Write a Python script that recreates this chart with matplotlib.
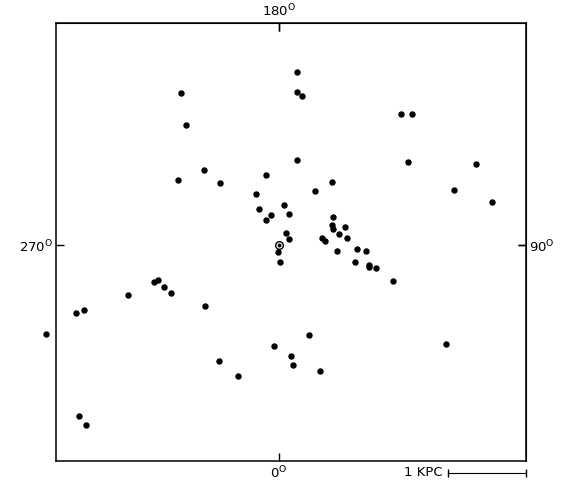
import numpy as np
import matplotlib
matplotlib.use("Agg")
import matplotlib.pyplot as plt
import matplotlib.transforms as mtransforms

# positions in kpc relative to the Sun (x toward l=90, y toward l=180)
x_kpc = [0.23, 0.23, 0.30, -1.25, -1.19, 1.56, 1.71, 0.23, 1.65, 2.53,
         -0.96, -1.29, -0.76, -0.16, 0.68, 0.46, 2.24, 2.73, -0.30, 0.06,
         -0.25, 0.13, -0.10, -0.17, 0.70, 0.68, 0.69, 0.85, 0.77, 0.87,
         0.09, 0.13, 0.55, 0.59, -0.01, 0.02, 0.74, 1.00, 1.12, 0.97,
         1.15, 1.16, 1.24, 1.46, -1.60, -1.55, -1.47, -1.38, -1.93, -0.95,
         -2.60, -2.50, -2.99, 0.38, -0.06, 0.16, 0.18, -0.77, -0.52, 0.53,
         2.15, -2.56, -2.47]
y_kpc = [2.22, 1.96, 1.91, 1.95, 1.54, 1.68, 1.68, 1.09, 1.07, 1.04,
         0.97, 0.83, 0.80, 0.90, 0.81, 0.69, 0.71, 0.55, 0.66, 0.51,
         0.46, 0.40, 0.38, 0.32, 0.36, 0.26, 0.21, 0.23, 0.14, 0.09,
         0.16, 0.08, 0.09, 0.05, -0.09, -0.22, -0.07, -0.05, -0.08, -0.22,
         -0.25, -0.28, -0.30, -0.46, -0.47, -0.45, -0.54, -0.62, -0.64, -0.78,
         -0.87, -0.83, -1.14, -1.15, -1.30, -1.42, -1.54, -1.49, -1.68, -1.62,
         -1.27, -2.19, -2.31]

sun = (0.0, 0.0)
x_lim = (-2.86, 3.17)
y_lim = (-2.77, 2.85)
deg = r"$^{\mathrm{O}}$"
lon_labels = {"bottom": "0" + deg, "top": "180" + deg,
              "left": "270" + deg, "right": "90" + deg}
scale_len = 1.0  # kpc

fig = plt.figure(figsize=(5.7, 4.9), dpi=100)
ax = fig.add_axes([0.0982, 0.0592, 0.8246, 0.8939])

ax.plot(x_kpc, y_kpc, 'o', color='black', markersize=3.6, clip_on=False)

# the Sun
ax.plot(*sun, 'o', mfc='white', mec='black', mew=1.0, markersize=5.5, zorder=5)
ax.plot(*sun, 'o', color='black', markersize=1.8, zorder=6)

ax.set_xlim(*x_lim)
ax.set_ylim(*y_lim)
for s in ax.spines.values():
    s.set_linewidth(1.1)

fs = 9.5
ax.set_xticks([0], labels=[lon_labels["bottom"]], fontsize=fs)
ax.set_yticks([0], labels=[lon_labels["left"]], fontsize=fs)
ax.tick_params(direction='in', length=6, width=1.0, pad=3,
               top=True, right=True)
ax.tick_params(axis='y', pad=2)

top = ax.secondary_xaxis('top')
top.set_xticks([0], labels=[lon_labels["top"]], fontsize=fs)
top.tick_params(direction='in', length=6, width=1.0, pad=3)
right = ax.secondary_yaxis('right')
right.set_yticks([0], labels=[lon_labels["right"]], fontsize=fs)
right.tick_params(direction='in', length=6, width=1.0, pad=2)

# scale bar below the frame
trans = mtransforms.blended_transform_factory(ax.transData, ax.transAxes)
x1 = x_lim[1]
ax.plot([x1 - scale_len, x1], [-0.027, -0.027], color='black', lw=0.8,
        marker='|', markersize=6, mew=1.0, transform=trans, clip_on=False)
ax.text(x1 - scale_len - 0.07, -0.027, "1 KPC", transform=trans,
        ha='right', va='center', fontsize=fs)

fig.savefig("out.png", dpi=100)
